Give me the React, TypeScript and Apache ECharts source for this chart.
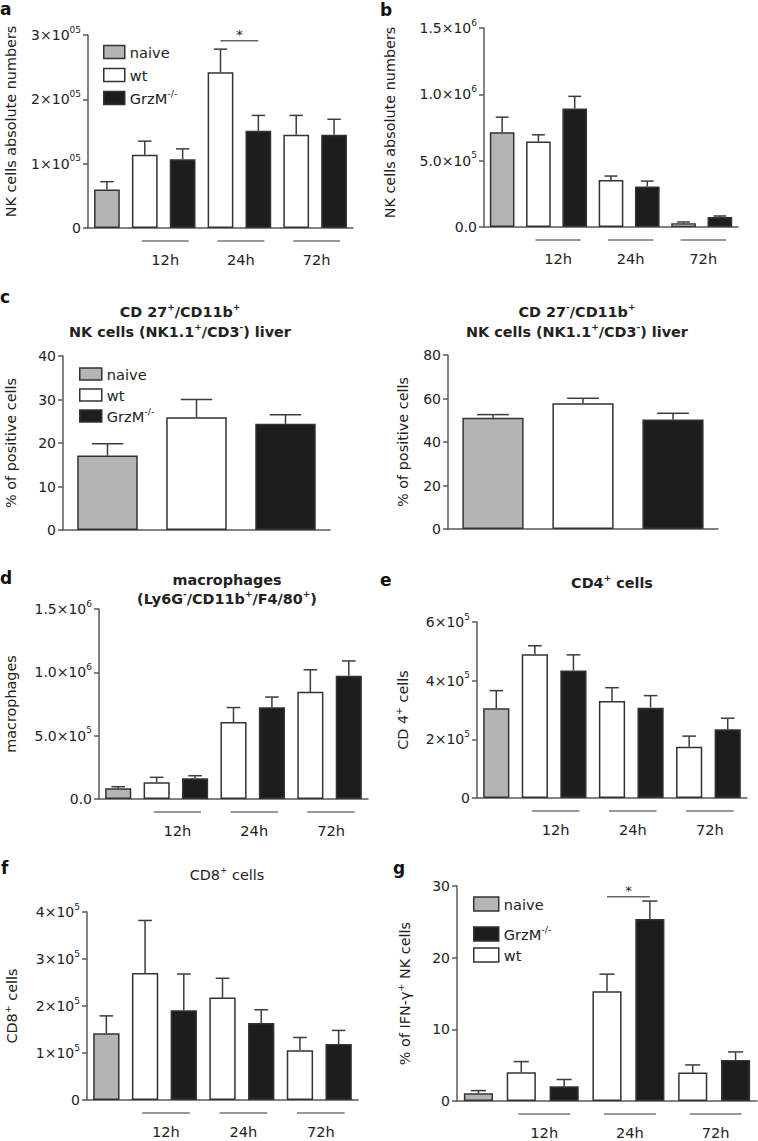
import React, { useEffect, useRef } from "react";
import * as echarts from "echarts";

const FONT = "'DejaVu Sans', Verdana, sans-serif";

// ---------- categories ----------
const cats7 = ["naive", "wt 12h", "GrzM 12h", "wt 24h", "GrzM 24h", "wt 72h", "GrzM 72h"];
const groups7 = ["naive", "wt", "GrzM", "wt", "GrzM", "wt", "GrzM"];
const cats3 = ["naive", "wt", "GrzM"];
const groups3 = ["naive", "wt", "GrzM"];
const timeLabels = ["12h", "24h", "72h"];
const timeSpans = [[1, 2], [3, 4], [5, 6]];

// ---------- values (mean, upper SEM) ----------
const aMean = [60000, 114000, 107000, 242000, 151000, 145000, 145000];
const aSem = [12000, 21000, 16000, 36000, 24000, 30000, 24000];
const bMean = [714000, 644000, 894000, 354000, 305000, 28000, 76000];
const bSem = [114000, 51000, 91000, 30000, 41000, 10000, 7000];
const cLMean = [17.1, 25.9, 24.4];
const cLSem = [2.7, 4.1, 2.1];
const cRMean = [51.2, 57.8, 50.4];
const cRSem = [1.4, 2.3, 2.8];
const dMean = [85000, 132000, 164000, 607000, 725000, 846000, 973000];
const dSem = [12000, 39000, 20000, 115000, 80000, 174000, 117000];
const eMean = [306000, 490000, 435000, 331000, 308000, 175000, 234000];
const eSem = [60000, 29000, 53000, 45000, 41000, 36000, 38000];
const fMean = [142000, 270000, 191000, 218000, 164000, 106000, 119000];
const fSem = [37000, 112000, 77000, 41000, 28000, 27000, 29000];
const gMean = [1.07, 4.0, 2.05, 15.3, 25.4, 3.96, 5.73];
const gSem = [0.38, 1.5, 0.95, 2.4, 2.5, 1.07, 1.12];

// significance bars: [fromCat, toCat, yValue]
const sigA = [3, 4, 291000];
const sigG = [3, 4, 28.5];

// ---------- tick labels ----------
const aTicks = [0, 100000, 200000, 300000];
const aTickLabels = ["0", "1×10^05", "2×10^05", "3×10^05"];
const bTicks = [0, 500000, 1000000, 1500000];
const bTickLabels = ["0.0", "5.0×10^5", "1.0×10^6", "1.5×10^6"];
const cLTicks = [0, 10, 20, 30, 40];
const cLTickLabels = ["0", "10", "20", "30", "40"];
const cRTicks = [0, 20, 40, 60, 80];
const cRTickLabels = ["0", "20", "40", "60", "80"];
const dTicks = [0, 500000, 1000000, 1500000];
const dTickLabels = ["0.0", "5.0×10^5", "1.0×10^6", "1.5×10^6"];
const eTicks = [0, 200000, 400000, 600000];
const eTickLabels = ["0", "2×10^5", "4×10^5", "6×10^5"];
const fTicks = [0, 100000, 200000, 300000, 400000];
const fTickLabels = ["0", "1×10^5", "2×10^5", "3×10^5", "4×10^5"];
const gTicks = [0, 10, 20, 30];
const gTickLabels = ["0", "10", "20", "30"];

const FILL: Record<string, string> = { naive: "#b4b4b4", wt: "#ffffff", GrzM: "#1d1d1d" };
const EDGE = "#333";
const AXIS = "#5a5a5a";
const TXT = "#222";
const FS = 14.4;

function richLabel(s: string) {
  const m = s.match(/^([^\^]*)\^(.+)$/);
  if (m) return `{n|${m[1]}}{s|${m[2]}}`;
  return `{n|${s}}`;
}

type Panel = {
  grid: { left: number; top: number; width: number; height: number };
  cats: string[];
  groups: string[];
  mean: number[];
  sem: number[];
  ticks: number[];
  tickLabels: string[];
  name: string;
  nameGap: number;
  namePad?: number[];
  times: boolean;
  sig?: number[];
};

const panels: Panel[] = [
  { grid: { left: 87, top: 35, width: 266, height: 193 }, cats: cats7, groups: groups7, mean: aMean, sem: aSem, ticks: aTicks, tickLabels: aTickLabels, name: "NK cells absolute numbers", nameGap: 67, namePad: [0, 0, 0, 20], times: true, sig: sigA },
  { grid: { left: 484, top: 28, width: 254, height: 199 }, cats: cats7, groups: groups7, mean: bMean, sem: bSem, ticks: bTicks, tickLabels: bTickLabels, name: "NK cells absolute numbers", nameGap: 84, namePad: [0, 0, 0, 10], times: true },
  { grid: { left: 60, top: 356, width: 270, height: 174 }, cats: cats3, groups: groups3, mean: cLMean, sem: cLSem, ticks: cLTicks, tickLabels: cLTickLabels, name: "% of positive cells", nameGap: 42, times: false },
  { grid: { left: 448, top: 355, width: 270, height: 174 }, cats: cats3, groups: groups3, mean: cRMean, sem: cRSem, ticks: cRTicks, tickLabels: cRTickLabels, name: "% of positive cells", nameGap: 35, times: false },
  { grid: { left: 96, top: 609, width: 272, height: 190 }, cats: cats7, groups: groups7, mean: dMean, sem: dSem, ticks: dTicks, tickLabels: dTickLabels, name: "macrophages", nameGap: 78, times: true },
  { grid: { left: 477, top: 622, width: 270, height: 176 }, cats: cats7, groups: groups7, mean: eMean, sem: eSem, ticks: eTicks, tickLabels: eTickLabels, name: "CD 4{s|+} cells", nameGap: 64, times: true },
  { grid: { left: 87, top: 912, width: 271, height: 188 }, cats: cats7, groups: groups7, mean: fMean, sem: fSem, ticks: fTicks, tickLabels: fTickLabels, name: "CD8{s|+} cells", nameGap: 65, times: true },
  { grid: { left: 457, top: 886, width: 300, height: 215 }, cats: cats7, groups: groups7, mean: gMean, sem: gSem, ticks: gTicks, tickLabels: gTickLabels, name: "% of IFN-γ{s|+} NK cells", nameGap: 42, times: true, sig: sigG },
];

const errRender = (params: any, api: any) => {
  const i = api.value(0);
  const lo = api.coord([i, api.value(1)]);
  const hi = api.coord([i, api.value(2)]);
  const bw = api.size([1, 0])[0] * 0.68;
  const half = bw * 0.26;
  const st = { stroke: "#3c3c3c", lineWidth: 1.5 };
  return {
    type: "group",
    children: [
      { type: "line", shape: { x1: lo[0], y1: lo[1], x2: hi[0], y2: hi[1] }, style: st },
      { type: "line", shape: { x1: hi[0] - half, y1: hi[1], x2: hi[0] + half, y2: hi[1] }, style: st },
    ],
  };
};

const timeRender = (params: any, api: any) => {
  const a = api.coord([api.value(0), 0]);
  const b = api.coord([api.value(1), 0]);
  const y = a[1];
  const label = timeLabels[api.value(2)];
  return {
    type: "group",
    children: [
      { type: "line", shape: { x1: a[0] - 3, y1: y + 13, x2: b[0] + 6, y2: y + 13 }, style: { stroke: "#777", lineWidth: 1.5 } },
      { type: "text", x: (a[0] + b[0]) / 2 + 1.5, y: y + 31, style: { text: label, fill: TXT, fontSize: 14.6, fontFamily: FONT, align: "center", verticalAlign: "middle" } },
    ],
  };
};

const sigRender = (params: any, api: any) => {
  const a = api.coord([api.value(0), api.value(2)]);
  const b = api.coord([api.value(1), api.value(2)]);
  return {
    type: "group",
    children: [
      { type: "line", shape: { x1: a[0], y1: a[1], x2: b[0], y2: b[1] }, style: { stroke: "#666", lineWidth: 1.5 } },
      { type: "text", x: (a[0] + b[0]) / 2, y: a[1] - 6, style: { text: "*", fill: TXT, fontSize: 13, fontFamily: FONT, align: "center", verticalAlign: "middle" } },
    ],
  };
};

function buildOption() {
  const grid: any[] = [];
  const xAxis: any[] = [];
  const yAxis: any[] = [];
  const series: any[] = [];
  panels.forEach((p, idx) => {
    grid.push({ ...p.grid, containLabel: false });
    xAxis.push({
      type: "category",
      gridIndex: idx,
      data: p.cats,
      axisLine: { lineStyle: { color: AXIS, width: 1.5 } },
      axisTick: { alignWithLabel: true, length: 5, lineStyle: { color: AXIS, width: 1.5 } },
      axisLabel: { show: false },
      splitLine: { show: false },
    });
    const interval = p.ticks[1] - p.ticks[0];
    yAxis.push({
      type: "value",
      gridIndex: idx,
      min: p.ticks[0],
      max: p.ticks[p.ticks.length - 1],
      interval,
      axisLine: { show: true, lineStyle: { color: AXIS, width: 1.5 } },
      axisTick: { show: true, length: 5, lineStyle: { color: AXIS, width: 1.5 } },
      splitLine: { show: false },
      axisLabel: {
        margin: 7,
        formatter: (v: number) => {
          const k = p.ticks.findIndex((t) => Math.abs(t - v) < interval * 1e-6);
          return richLabel(k >= 0 ? p.tickLabels[k] : String(v));
        },
        rich: {
          n: { fontSize: 14, lineHeight: 20, color: TXT, fontFamily: FONT },
          s: { fontSize: 9, lineHeight: 10, verticalAlign: "top", color: TXT, fontFamily: FONT },
        },
      },
      name: p.name,
      nameLocation: "middle",
      nameGap: p.nameGap,
      nameRotate: 90,
      nameTextStyle: {
        fontSize: FS,
        lineHeight: 20,
        color: TXT,
        fontFamily: FONT,
        padding: p.namePad || 0,
        rich: { s: { fontSize: 9.5, lineHeight: 10, verticalAlign: "top", color: TXT, fontFamily: FONT } },
      },
    });
    ["naive", "wt", "GrzM"].forEach((g) => {
      series.push({
        type: "bar",
        name: g,
        xAxisIndex: idx,
        yAxisIndex: idx,
        data: p.mean.map((v, i) => (p.groups[i] === g ? v : null)),
        barWidth: "68%",
        barGap: "-100%",
        itemStyle: { color: FILL[g], borderColor: EDGE, borderWidth: 1.5 },
        silent: true,
        z: 2,
      });
    });
    series.push({
      type: "custom",
      name: "err" + idx,
      xAxisIndex: idx,
      yAxisIndex: idx,
      data: p.mean.map((m, i) => [i, m, m + p.sem[i]]),
      encode: { x: 0, y: [1, 2] },
      renderItem: errRender,
      silent: true,
      z: 3,
    });
    if (p.times) {
      series.push({
        type: "custom",
        name: "time" + idx,
        xAxisIndex: idx,
        yAxisIndex: idx,
        data: timeSpans.map((s, k) => [s[0], s[1], k]),
        encode: { x: [0, 1], y: 2 },
        renderItem: timeRender,
        silent: true,
        clip: false,
      });
    }
    if (p.sig) {
      series.push({
        type: "custom",
        name: "sig" + idx,
        xAxisIndex: idx,
        yAxisIndex: idx,
        data: [p.sig],
        encode: { x: [0, 1], y: 2 },
        renderItem: sigRender,
        silent: true,
        clip: false,
      });
    }
  });

  const legendBase = {
    orient: "vertical",
    icon: "rect",
    selectedMode: false,
    itemStyle: { borderColor: EDGE, borderWidth: 1.5 },
    formatter: (n: string) => (n === "GrzM" ? "GrzM{s|-/-}" : n),
    textStyle: {
      fontSize: 14.6,
      lineHeight: 20,
      color: TXT,
      fontFamily: FONT,
      rich: { s: { fontSize: 9.5, lineHeight: 10, verticalAlign: "top", color: TXT, fontFamily: FONT } },
    },
  };
  const legend = [
    { ...legendBase, data: ["naive", "wt", "GrzM"], left: 98, top: 37, itemWidth: 21, itemHeight: 13, itemGap: 3 },
    { ...legendBase, data: ["naive", "wt", "GrzM"], left: 74, top: 359, itemWidth: 22, itemHeight: 12, itemGap: 1 },
    { ...legendBase, data: ["naive"], left: 468, top: 889, itemWidth: 25, itemHeight: 14 },
    { ...legendBase, data: ["GrzM", "wt"], left: 468, top: 919, itemWidth: 25, itemHeight: 14, itemGap: 1 },
  ];

  const supRich = (fs: number, bold: boolean) => ({
    s: { fontSize: Math.round(fs * 0.64), lineHeight: Math.round(fs * 0.7), verticalAlign: "top", fontWeight: bold ? "bold" : "normal", fill: TXT, fontFamily: FONT },
  });
  const txt = (text: string, x: number, y: number, fs: number, bold: boolean) => ({
    type: "text",
    x,
    y,
    style: {
      text,
      fill: TXT,
      fontSize: fs,
      fontWeight: bold ? "bold" : "normal",
      fontFamily: FONT,
      lineHeight: Math.round(fs * 1.35),
      align: "center",
      verticalAlign: "middle",
      rich: supRich(fs, bold),
    },
  });
  const letter = (text: string, x: number, y: number) => ({
    type: "text",
    x,
    y,
    style: { text, fill: "#111", fontSize: 17, fontWeight: "bold", fontFamily: FONT, lineHeight: 17, align: "left", verticalAlign: "top" },
  });

  const graphic = [
    letter("a", 0, 0),
    letter("b", 380, 1.5),
    letter("c", 0, 288.5),
    letter("d", 0, 569.5),
    letter("e", 380, 571.5),
    letter("f", 1, 859.5),
    letter("g", 393, 859),
    txt("CD 27{s|+}/CD11b{s|+}", 180, 312, FS, true),
    txt("NK cells (NK1.1{s|+}/CD3{s|-}) liver", 180, 332, FS, true),
    txt("CD 27{s|-}/CD11b{s|+}", 577, 312, FS, true),
    txt("NK cells (NK1.1{s|+}/CD3{s|-}) liver", 577, 332, FS, true),
    txt("macrophages", 227, 580, FS, true),
    txt("(Ly6G{s|-}/CD11b{s|+}/F4/80{s|+})", 227, 599, FS, true),
    txt("CD4{s|+} cells", 612, 583, FS, true),
    txt("CD8{s|+} cells", 227, 875, FS, false),
  ];

  return {
    animation: false,
    backgroundColor: "#ffffff",
    textStyle: { fontFamily: FONT },
    grid,
    xAxis,
    yAxis,
    series,
    legend,
    graphic,
  };
}

export default function App() {
  const ref = useRef<HTMLDivElement | null>(null);
  useEffect(() => {
    document.body.style.margin = "0";
    if (!ref.current) return;
    const chart = echarts.init(ref.current, undefined, { renderer: "svg" });
    chart.setOption(buildOption() as any);
    return () => chart.dispose();
  }, []);
  return <div ref={ref} style={{ width: 758, height: 1141 }} />;
}
